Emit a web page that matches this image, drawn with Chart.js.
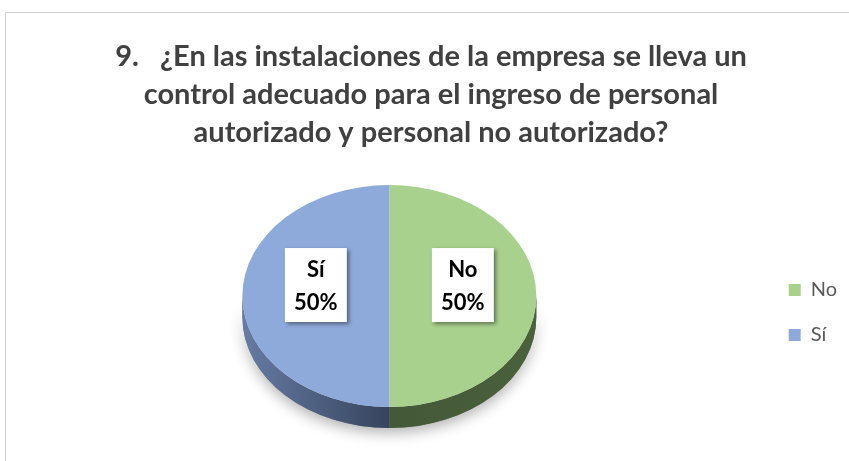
<!DOCTYPE html>
<html>
<head>
<meta charset="utf-8">
<script src="https://cdn.jsdelivr.net/npm/chart.js@4/dist/chart.umd.min.js"></script>
<style>
  html, body { margin: 0; padding: 0; background: #fff; }
  #wrap { position: relative; width: 849px; height: 461px; overflow: hidden; }
  #frame { position: absolute; left: 5px; top: 12px; width: 900px; height: 500px; border: 1px solid #d0d0d0; }
  #pie { position: absolute; left: 0; top: 0; }
</style>
</head>
<body>
<div id="wrap">
  <div id="frame"></div>
  <canvas id="pie" width="849" height="461"></canvas>
</div>
<script>
const categories = ["No", "Sí"];
const values = [50, 50];
const titleLines = [
  "9.   ¿En las instalaciones de la empresa se lleva un",
  "control adecuado para el ingreso de personal",
  "autorizado y personal no autorizado?"
];
const topColors = ["#a9d18e", "#8eaadb"];
const sideColors = [["#435837", "#4a613c"], ["#667ba3", "#36445e"]];

const TILT = 111 / 147;  // alto/ancho de la elipse
const DEPTH = 21;

// pie "3D": lados primero, luego la cara superior aplastada
const pie3d = {
  id: "pie3d",
  beforeDatasetsDraw(chart) {
    const ctx = chart.ctx;
    const arcs = chart.getDatasetMeta(0).data;
    if (!arcs.length) return;
    const cx = arcs[0].x, cy = arcs[0].y, r = arcs[0].outerRadius, ry = r * TILT;

    // sombra suave debajo
    ctx.save();
    ctx.shadowColor = "rgba(0,0,0,0.3)";
    ctx.shadowBlur = 14;
    ctx.shadowOffsetY = 5;
    ctx.fillStyle = "#888";
    ctx.beginPath();
    ctx.ellipse(cx, cy + DEPTH, r, ry, 0, 0, Math.PI);
    ctx.ellipse(cx, cy, r, ry, 0, Math.PI, 0, true);
    ctx.closePath();
    ctx.fill();
    ctx.restore();

    arcs.forEach((arc, i) => {
      [-2 * Math.PI, 0, 2 * Math.PI].forEach((off) => {
        const s = Math.max(arc.startAngle + off, 0);
        const e = Math.min(arc.endAngle + off, Math.PI);
        if (e <= s) return;
        const x1 = cx + r * Math.cos(s), x2 = cx + r * Math.cos(e);
        const g = ctx.createLinearGradient(Math.min(x1, x2), 0, Math.max(x1, x2), 0);
        g.addColorStop(0, sideColors[i][0]);
        g.addColorStop(1, sideColors[i][1]);
        ctx.save();
        ctx.fillStyle = g;
        ctx.beginPath();
        ctx.ellipse(cx, cy, r, ry, 0, s, e);
        ctx.ellipse(cx, cy + DEPTH, r, ry, 0, e, s, true);
        ctx.closePath();
        ctx.fill();
        ctx.restore();
      });
    });

    ctx.save();
    ctx.translate(cx, cy);
    ctx.scale(1, TILT);
    ctx.translate(-cx, -cy);
  },
  afterDatasetsDraw(chart) {
    const ctx = chart.ctx;
    ctx.restore();
    const meta = chart.getDatasetMeta(0);
    const total = values.reduce((a, b) => a + b, 0);
    meta.data.forEach((arc, i) => {
      const p = arc.getCenterPoint();
      const cy = arc.y;
      const x = p.x, y = cy + (p.y - cy) * TILT - 11;
      const w = 62, h = 74;
      ctx.save();
      ctx.shadowColor = "rgba(0,0,0,0.45)";
      ctx.shadowBlur = 4;
      ctx.shadowOffsetX = 2;
      ctx.shadowOffsetY = 2;
      ctx.fillStyle = "#fff";
      ctx.fillRect(x - w / 2, y - h / 2, w, h);
      ctx.restore();
      ctx.save();
      ctx.fillStyle = "#000";
      ctx.font = "bold 22px Lato";
      ctx.textAlign = "center";
      ctx.textBaseline = "middle";
      ctx.fillText(categories[i], x, y - 15);
      ctx.fillText(Math.round(values[i] / total * 100) + "%", x, y + 18);
      ctx.restore();
    });
  }
};

new Chart(document.getElementById("pie"), {
  type: "pie",
  data: {
    labels: categories,
    datasets: [{
      data: values,
      backgroundColor: topColors,
      borderWidth: 0,
      radius: 147,
      clip: false
    }]
  },
  options: {
    responsive: false,
    animation: false,
    events: [],
    layout: { padding: { left: 15, right: 2, top: 0, bottom: 30 } },
    plugins: {
      title: {
        display: true,
        text: titleLines,
        color: "#404040",
        font: { family: "Lato", size: 29, weight: "bold", lineHeight: 1.3 },
        padding: { top: 38, bottom: 10 }
      },
      legend: {
        position: "right",
        title: { display: true, text: "", font: { size: 10, lineHeight: 1.2 }, padding: 91 },
        labels: {
          boxWidth: 12,
          boxHeight: 12,
          padding: 25,
          color: "#595959",
          font: { family: "Lato", size: 20 }
        }
      },
      tooltip: { enabled: false }
    }
  },
  plugins: [pie3d]
});
</script>
</body>
</html>
